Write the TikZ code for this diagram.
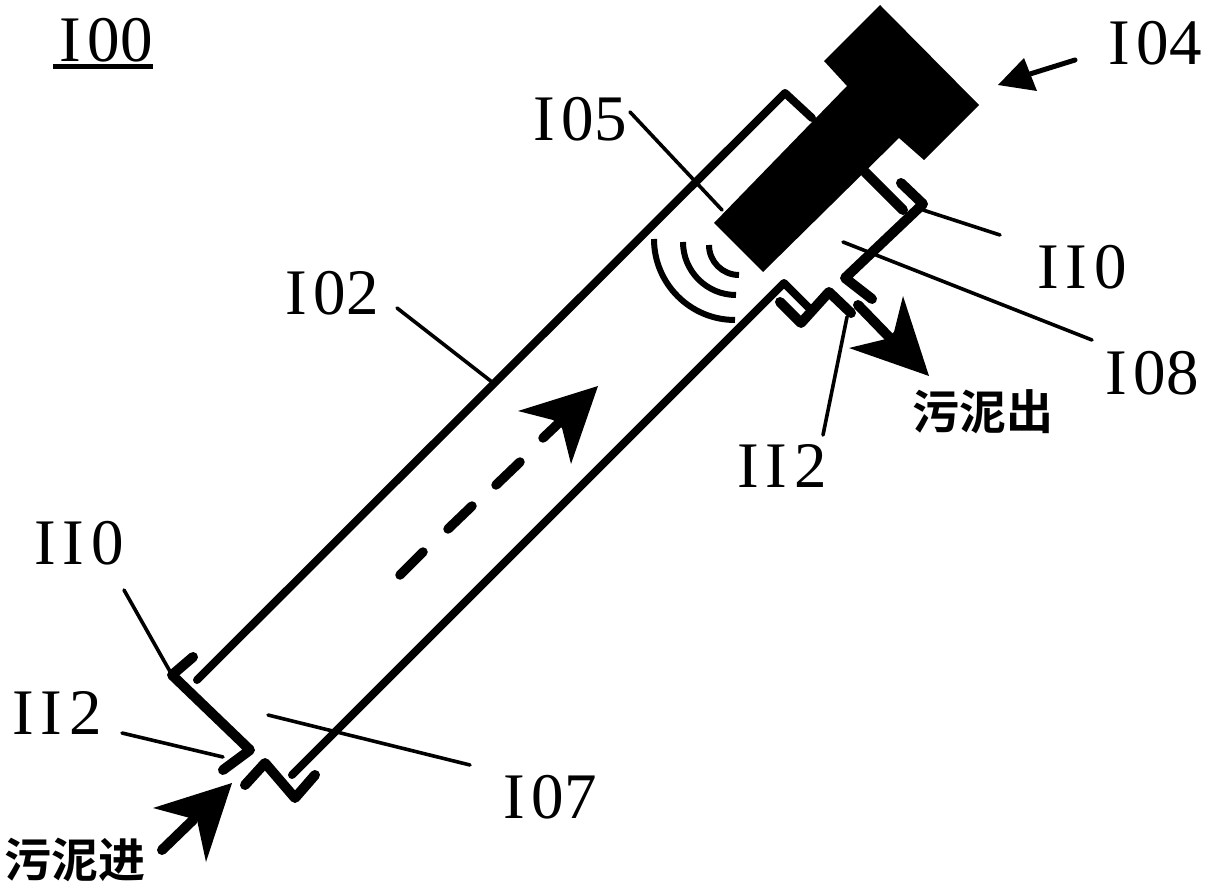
\documentclass[tikz,border=0pt]{standalone}
\usepackage{fontspec}
\newfontfamily\lblfont{Liberation Serif}
\newfontfamily\cjkfont{Noto Sans CJK SC Bold}
\newcommand{\wI}{I\kern7pt\relax}
\tikzset{
  wall/.style={line width=8pt,line cap=round,line join=round},
  flange/.style={line width=10pt,line cap=round,line join=round},
  leader/.style={line width=3.6pt,line cap=round},
  wave/.style={line width=6pt,line cap=butt},
  flowdash/.style={line width=9.5pt,line cap=round},
  lbl/.style={inner sep=0pt,font=\lblfont\fontsize{65}{65}\selectfont},
  cjk/.style={inner sep=0pt,font=\cjkfont\fontsize{47}{47}\selectfont}
}
\begin{document}
\begin{tikzpicture}[x=1pt,y=-1pt]
\useasboundingbox (0,0) rectangle (1208,890);
% probe
\fill (880,5) -- (979,105) -- (924,160) -- (899,138) -- (763,272) -- (714,223) -- (847,86) -- (824,61) -- cycle;
% walls
\draw[wall] (197,680) -- (785,93) -- (812,118);
\draw[wall] (292,775) -- (784,283) -- (808,307);
\draw[flange] (780,302) -- (801,323) -- (829,292) -- (851,313);
\draw[flange] (865,172) -- (903,210);
\draw[flange] (901,183) -- (923,204) -- (845,278) -- (872,299);
\draw[flange] (193,657) -- (172,675) -- (250,750) -- (223,770);
\draw[flange] (245,785) -- (265,763) -- (295,798) -- (315,775);
% waves
\draw[wave] (709,245) arc[start angle=180,end angle=90,radius=30];
\draw[wave] (683,242) arc[start angle=180,end angle=90,radius=53];
\draw[wave] (654,239) arc[start angle=180,end angle=90,radius=81];
% flow arrows
\draw[flowdash] (400,575) -- (423,552);
\draw[flowdash] (448,529) -- (472,506);
\draw[flowdash] (496,485) -- (520,462);
\draw[flowdash] (543,438) -- (562,420);
\fill (598,386) -- (518,411) -- (553,420) -- (562,428) -- (571,464) -- cycle;
\draw[flange] (858,305) -- (890,338);
\fill (929,376) -- (903,296) -- (894,332) -- (886,339) -- (849,348) -- cycle;
\draw[flange] (162,850) -- (193,820);
\fill (232,783) -- (153,808) -- (190,818) -- (197,820) -- (206,862) -- cycle;
\draw[line width=5pt,line cap=round] (1075,60) -- (1030,74);
\fill (998,85) -- (1024,58) -- (1037,91) -- cycle;
% leaders
\coordinate (a1) at (630,112); \coordinate (a2) at (722,210); \draw[leader] (a1) -- (a2);
\coordinate (b1) at (923,210); \coordinate (b2) at (1000,235); \draw[leader] (b1) -- (b2);
\coordinate (c1) at (843,242); \coordinate (c2) at (1092,340); \draw[leader] (c1) -- (c2);
\coordinate (d1) at (847,317); \coordinate (d2) at (823,435); \draw[leader] (d1) -- (d2);
\coordinate (e1) at (397,308); \coordinate (e2) at (492,382); \draw[leader] (e1) -- (e2);
\coordinate (f1) at (124,590); \coordinate (f2) at (172,675); \draw[leader] (f1) -- (f2);
\coordinate (g1) at (122,733); \coordinate (g2) at (223,757); \draw[leader] (g1) -- (g2);
\coordinate (h1) at (268,715); \coordinate (h2) at (470,765); \draw[leader] (h1) -- (h2);
% labels
\node[lbl] (l100) at (106,40) {\wI 00};
\draw[line width=5pt] (53,67) -- (153,67);
\node[lbl] (l104) at (1155,43) {\wI 04};
\node[lbl] (l105) at (580,119) {\wI 05};
\node[lbl] (l102) at (332,293) {\wI 02};
\node[lbl] (l110r) at (1082,267) {\wI\wI 0};
\node[lbl] (l108) at (1152,373) {\wI 08};
\node[lbl] (l112r) at (782,466) {\wI\wI 2};
\node[lbl] (l110l) at (79,543) {\wI\wI 0};
\node[lbl] (l112l) at (57,713) {\wI\wI 2};
\node[lbl] (l107) at (550,797) {\wI 07};
\node[cjk] (out) at (983,412) {污泥出};
\node[cjk] (in) at (75,860) {污泥进};
\end{tikzpicture}
\end{document}
